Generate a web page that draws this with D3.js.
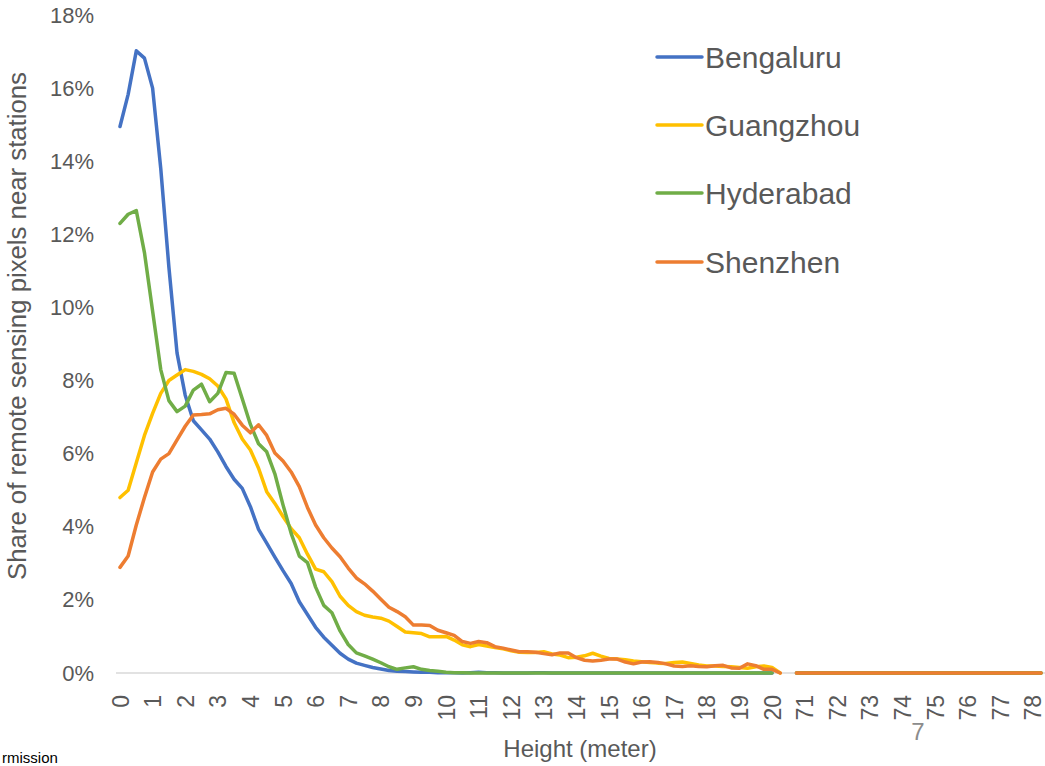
<!DOCTYPE html>
<html>
<head>
<meta charset="utf-8">
<script src="https://cdn.jsdelivr.net/npm/d3@7"></script>
<style>
  html, body { margin: 0; padding: 0; background: #ffffff; overflow: hidden; }
  svg { display: block; font-family: "Liberation Sans", Arial, sans-serif; }
</style>
</head>
<body>
<svg id="chart" width="1045" height="766"></svg>
<script>
// ---------------- DATA ----------------
const seriesNames = ["Bengaluru", "Guangzhou", "Hyderabad", "Shenzhen"];
const seriesColors = ["#4472C4", "#FFC000", "#70AD47", "#ED7D31"];

// Heights 0 .. 20.25 in steps of 0.25 (first segment), then a gap, then 70.75 .. 78.25
const lowHeights = d3.range(0, 82).map(i => i * 0.25);
const tailHeights = d3.range(0, 31).map(i => 70.75 + i * 0.25);

const lowTickLabels = ["0","1","2","3","4","5","6","7","8","9","10","11","12","13","14","15","16","17","18","19","20"];
const tailTickLabels = ["71","72","73","74","75","76","77","78"];
const yTickLabels = ["0%","2%","4%","6%","8%","10%","12%","14%","16%","18%"];

// values in percent, 0 .. 20.25 m
const bengaluru = [14.95,15.83,17.02,16.82,16.0,13.8,11.1,8.75,7.6,6.9,
  6.65,6.4,6.05,5.65,5.3,5.05,4.55,3.93,3.55,3.17,
  2.8,2.45,1.95,1.6,1.25,0.98,0.76,0.54,0.38,0.27,
  0.21,0.15,0.11,0.07,0.05,0.04,0.03,0.02,0.02,0.01,
  0.01,0.01,0.0,0.01,0.02,0.01,0.01,0.0,0.0,0.0,
  0.0,0.01,0.01,0.0,0.0,0.0,0.0,0.0,0.0,0.0,
  0.0,0.0,0.0,0.0,0.0,0.0,0.0,0.0,0.0,0.0,
  0.0,0.0,0.0,0.0,0.0,0.0,0.0,0.0,0.0,0.0,
  0.0,null];
const guangzhou = [4.8,5.0,5.75,6.5,7.1,7.65,8.0,8.15,8.3,8.25,
  8.17,8.05,7.85,7.5,6.85,6.4,6.1,5.6,4.96,4.64,
  4.28,3.95,3.7,3.25,2.84,2.77,2.5,2.1,1.85,1.68,
  1.58,1.53,1.5,1.42,1.27,1.12,1.1,1.08,0.99,0.99,
  1.0,0.9,0.77,0.72,0.78,0.74,0.7,0.66,0.61,0.57,
  0.56,0.56,0.58,0.52,0.49,0.42,0.43,0.47,0.54,0.46,
  0.4,0.38,0.36,0.33,0.31,0.29,0.27,0.26,0.29,0.3,
  0.26,0.22,0.19,0.19,0.18,0.17,0.15,0.13,0.17,0.19,
  0.15,0.0];
const hyderabad = [12.3,12.55,12.65,11.5,9.9,8.3,7.45,7.15,7.3,7.74,
  7.9,7.42,7.65,8.22,8.2,7.5,6.8,6.27,6.05,5.45,
  4.6,3.82,3.2,3.02,2.35,1.85,1.65,1.15,0.78,0.55,
  0.47,0.38,0.28,0.17,0.1,0.14,0.17,0.1,0.07,0.05,
  0.02,0.01,0.01,0.0,0.0,0.0,0.0,0.0,0.0,0.0,
  0.0,0.0,0.0,0.0,0.0,0.0,0.0,0.0,0.0,0.0,
  0.0,0.0,0.0,0.0,0.0,0.0,0.0,0.0,0.0,0.0,
  0.0,0.0,0.0,0.0,0.0,0.0,0.0,0.0,0.0,0.0,
  0.0,null];
const shenzhen = [2.89,3.2,4.05,4.8,5.5,5.85,6.0,6.38,6.75,7.06,
  7.07,7.09,7.2,7.24,7.08,6.78,6.57,6.79,6.5,6.02,
  5.8,5.5,5.1,4.53,4.05,3.7,3.42,3.18,2.87,2.6,
  2.44,2.24,2.02,1.8,1.68,1.54,1.31,1.31,1.3,1.17,
  1.1,1.03,0.86,0.81,0.86,0.83,0.72,0.68,0.63,0.58,
  0.58,0.57,0.53,0.5,0.55,0.55,0.42,0.35,0.33,0.35,
  0.38,0.38,0.3,0.25,0.3,0.31,0.29,0.25,0.19,0.18,
  0.2,0.18,0.17,0.2,0.21,0.14,0.13,0.25,0.2,0.1,
  0.1,0.0];
// 70.75 .. 78.25 m: all zero
const tailValues = [0,0,0,0,0,0,0,0,0,0,0,0,0,0,0,0,0,0,0,0,0,0,0,0,0,0,0,0,0,0,0];

// ---------------- BUILD ----------------
const categories = lowHeights.map(h => "h" + h).concat(["gap"], tailHeights.map(h => "h" + h));
const lowSeries = [bengaluru, guangzhou, hyderabad, shenzhen];
const table = seriesNames.map((name, k) => {
  const vals = lowSeries[k].concat([null], tailValues);
  return { name, color: seriesColors[k], points: categories.map((c, i) => ({ cat: c, v: vals[i] })) };
});

const svg = d3.select("#chart");
const x = d3.scalePoint().domain(categories).range([120, 1041]);
const y = d3.scaleLinear().domain([0, 0.18]).range([673, 15]);

const textColor = "#595959";

// Y axis labels
const yAxis = d3.axisLeft(y)
  .tickValues(yTickLabels.map((t, i) => i * 0.02))
  .tickFormat((d, i) => yTickLabels[i])
  .tickSize(0).tickPadding(0);
const gy = svg.append("g").attr("transform", "translate(94,0)").call(yAxis);
gy.select(".domain").remove();
gy.selectAll("text").attr("fill", textColor).style("font-size", "22px")
  .style("font-family", "'Liberation Sans', Arial, sans-serif");

// X axis line
svg.append("line").attr("x1", 116).attr("x2", 1045).attr("y1", y(0)).attr("y2", y(0))
  .attr("stroke", "#d9d9d9").attr("stroke-width", 1.5);

// X tick labels (rotated)
const tickCats = lowTickLabels.map(t => "h" + (+t)).concat(tailTickLabels.map(t => "h" + (+t)));
const tickTexts = lowTickLabels.concat(tailTickLabels);
const xAxis = d3.axisBottom(x).tickValues(tickCats).tickFormat((d, i) => tickTexts[i]).tickSize(0).tickPadding(0);
const gx = svg.append("g").call(xAxis);
gx.select(".domain").remove();
gx.selectAll(".tick").each(function(d) {
  const t = d3.select(this).select("text");
  t.attr("transform", "translate(0,695) rotate(-90)")
    .attr("x", 0).attr("y", 0).attr("dy", "0.35em")
    .attr("text-anchor", "end")
    .attr("fill", textColor).style("font-size", "23px")
    .style("font-family", "'Liberation Sans', Arial, sans-serif");
});

// Lines
const line = d3.line().defined(d => d.v != null).x(d => x(d.cat)).y(d => y(d.v / 100));
svg.append("g").selectAll("path").data(table).join("path")
  .attr("d", d => line(d.points))
  .attr("fill", "none").attr("stroke", d => d.color)
  .attr("stroke-width", 3.5).attr("stroke-linejoin", "round").attr("stroke-linecap", "round");

// Legend
const legendY = [57, 125, 193, 262];
const lg = svg.append("g").selectAll("g").data(table).join("g")
  .attr("transform", (d, i) => `translate(0,${legendY[i]})`);
lg.append("line").attr("x1", 657).attr("x2", 702).attr("y1", 0).attr("y2", 0)
  .attr("stroke", d => d.color).attr("stroke-width", 3.5).attr("stroke-linecap", "round");
lg.append("text").attr("x", 705).attr("y", 0).attr("dy", "0.35em")
  .attr("fill", textColor).style("font-size", "30px").text(d => d.name);

// Axis titles
svg.append("text").attr("transform", "translate(26,326) rotate(-90)")
  .attr("text-anchor", "middle").attr("fill", textColor).style("font-size", "25px")
  .attr("textLength", 508).attr("lengthAdjust", "spacingAndGlyphs")
  .text("Share of remote sensing pixels near stations");
svg.append("text").attr("x", 580).attr("y", 757).attr("text-anchor", "middle")
  .attr("fill", textColor).style("font-size", "24px").text("Height (meter)");

// stray page-number and clipped footnote text
svg.append("text").attr("x", 918).attr("y", 740).attr("text-anchor", "middle")
  .attr("fill", "#8c8c8c").style("font-size", "24px").text("7");
svg.append("text").attr("x", 2).attr("y", 763).attr("fill", "#000000")
  .style("font-size", "15px").text("rmission");
</script>
</body>
</html>
